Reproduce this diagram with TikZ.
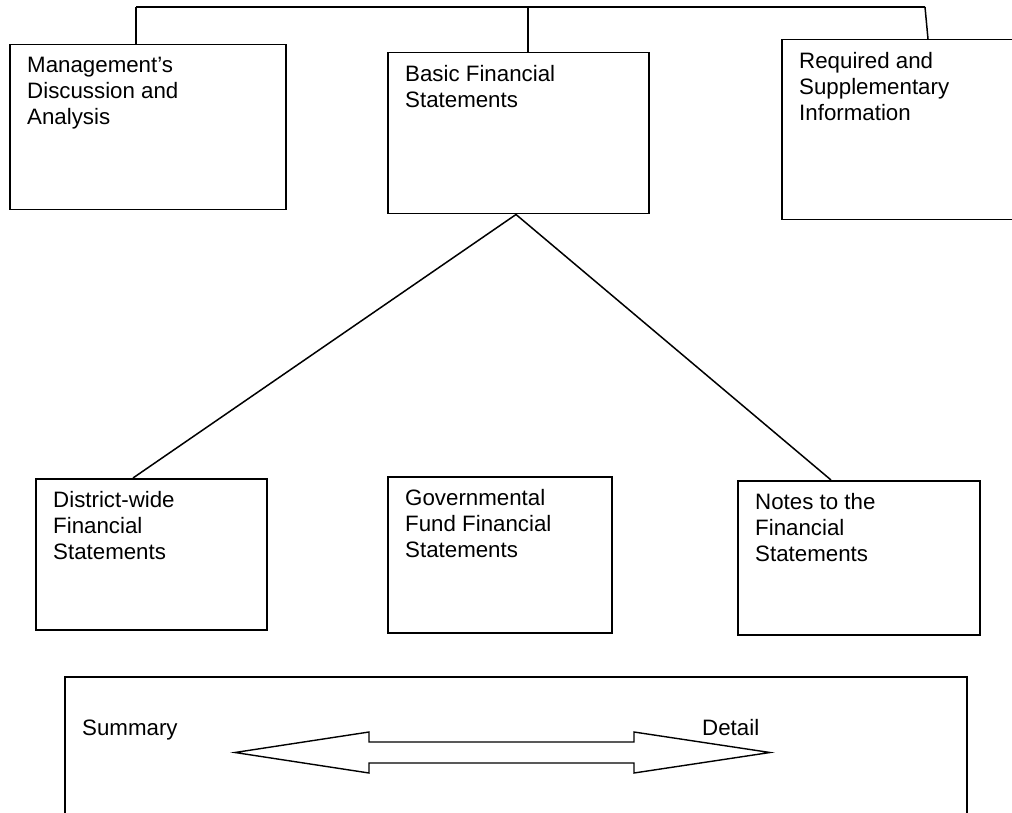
\documentclass[tikz,border=0pt]{standalone}
\usepackage{fontspec}
\setmainfont{Liberation Sans}
\usetikzlibrary{calc,positioning}
\tikzset{
  finrect/.style={draw, line width=1.5pt, inner sep=0pt, anchor=north west},
  fintext/.style={align=left, inner sep=0pt, anchor=north west,
    font=\fontsize{22.3}{26}\selectfont}
}
\newcommand\finbox[6]{%
  \node[finrect, minimum width=#4pt, minimum height=#5pt] (#1) at (#2, #3) {};
  \node[fintext] (#1-text) at ($(#1.north west)+(18,13)$) {#6}
}

\begin{document}
\begin{tikzpicture}[x=1pt, y=-1pt]
        \useasboundingbox (0,0) rectangle (1012,813);
        \clip (0,0) rectangle (1012,813);

        % Top row
        \finbox{mda}{9}{44}{276}{165}{Management’s\\Discussion and\\Analysis};
        \finbox{basic}{387}{52}{261}{161}{Basic Financial\\Statements};
        \finbox{req}{781}{39}{236}{180}{Required and\\Supplementary\\Information};

        % Bus line over the top row
        \coordinate (busl) at (136, 7);
        \coordinate (busm) at (528, 7);
        \coordinate (busr) at (925, 7);
        \draw[line width=1.5pt] (busl) -- (busr);
        \draw[line width=1.5pt] (busl) -- (busl |- mda.north);
        \draw[line width=1.5pt] (busm) -- (busm |- basic.north);
        \draw[line width=1.5pt] (busr) -- ($(busr |- req.north)+(3,0)$);

        % Parts of the basic statements
        \finbox{district}{35}{478}{231}{151}{District-wide\\Financial\\Statements};
        \finbox{gov}{387}{476}{224}{156}{Governmental\\Fund Financial\\Statements};
        \finbox{notes}{737}{480}{242}{154}{Notes to the\\Financial\\Statements};

        \coordinate (apex) at (516,0 |- basic.south);
        \draw[line width=1.5pt] (apex) -- (133,0 |- district.north);
        \draw[line width=1.5pt] (apex) -- (831,0 |- notes.north);

        % Summary / detail scale
        \node[finrect, minimum width=902pt, minimum height=200pt] (scale) at (64, 676) {};
        \node[fintext, anchor=base west] (summary) at (82, 735) {Summary};
        \node[fintext, anchor=base west] (detail) at (702, 735) {Detail};
        \draw[line width=1.4pt] (235,752.5) -- (369,732) -- (369,742) -- (634,742)
          -- (634,732) -- (770,752.5) -- (634,773) -- (634,763) -- (369,763)
          -- (369,773) -- cycle;
    \end{tikzpicture}
\end{document}
